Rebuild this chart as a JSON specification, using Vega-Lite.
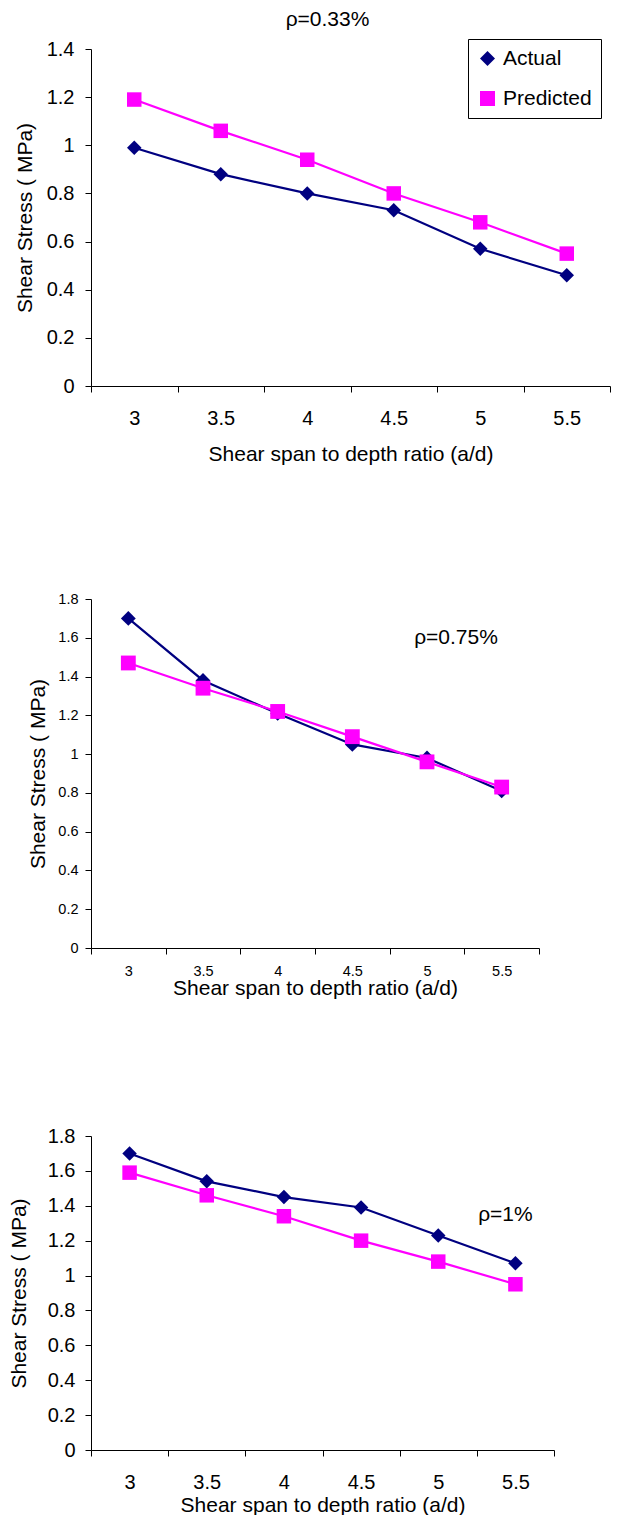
{
  "$schema": "https://vega.github.io/schema/vega-lite/v6.json",
  "background": "white",
  "padding": {"left": 8, "top": 9, "right": 0, "bottom": 0},
  "config": {
    "font": "Liberation Sans",
    "view": {"stroke": null},
    "axis": {"grid": false, "domainColor": "#000000", "tickColor": "#000000", "labelColor": "#000000", "titleColor": "#000000", "titleFontWeight": "normal", "tickSize": 6, "labelFont": "Liberation Sans", "titleFont": "Liberation Sans", "labelOverlap": false},
    "title": {"font": "Liberation Sans", "fontWeight": "normal", "color": "#000000"},
    "text": {"font": "Liberation Sans"}
  },
  "datasets": {
    "p1": [
      {"ratio": "3", "series": "Actual", "stress": 0.99},
      {"ratio": "3.5", "series": "Actual", "stress": 0.88},
      {"ratio": "4", "series": "Actual", "stress": 0.80},
      {"ratio": "4.5", "series": "Actual", "stress": 0.73},
      {"ratio": "5", "series": "Actual", "stress": 0.57},
      {"ratio": "5.5", "series": "Actual", "stress": 0.46},
      {"ratio": "3", "series": "Predicted", "stress": 1.19},
      {"ratio": "3.5", "series": "Predicted", "stress": 1.06},
      {"ratio": "4", "series": "Predicted", "stress": 0.94},
      {"ratio": "4.5", "series": "Predicted", "stress": 0.80},
      {"ratio": "5", "series": "Predicted", "stress": 0.68},
      {"ratio": "5.5", "series": "Predicted", "stress": 0.55}
    ],
    "p2": [
      {"ratio": "3", "series": "Actual", "stress": 1.70},
      {"ratio": "3.5", "series": "Actual", "stress": 1.38},
      {"ratio": "4", "series": "Actual", "stress": 1.21},
      {"ratio": "4.5", "series": "Actual", "stress": 1.05},
      {"ratio": "5", "series": "Actual", "stress": 0.98},
      {"ratio": "5.5", "series": "Actual", "stress": 0.81},
      {"ratio": "3", "series": "Predicted", "stress": 1.47},
      {"ratio": "3.5", "series": "Predicted", "stress": 1.34},
      {"ratio": "4", "series": "Predicted", "stress": 1.22},
      {"ratio": "4.5", "series": "Predicted", "stress": 1.09},
      {"ratio": "5", "series": "Predicted", "stress": 0.96},
      {"ratio": "5.5", "series": "Predicted", "stress": 0.83}
    ],
    "p3": [
      {"ratio": "3", "series": "Actual", "stress": 1.70},
      {"ratio": "3.5", "series": "Actual", "stress": 1.54},
      {"ratio": "4", "series": "Actual", "stress": 1.45},
      {"ratio": "4.5", "series": "Actual", "stress": 1.39},
      {"ratio": "5", "series": "Actual", "stress": 1.23},
      {"ratio": "5.5", "series": "Actual", "stress": 1.07},
      {"ratio": "3", "series": "Predicted", "stress": 1.59},
      {"ratio": "3.5", "series": "Predicted", "stress": 1.46},
      {"ratio": "4", "series": "Predicted", "stress": 1.34},
      {"ratio": "4.5", "series": "Predicted", "stress": 1.20},
      {"ratio": "5", "series": "Predicted", "stress": 1.08},
      {"ratio": "5.5", "series": "Predicted", "stress": 0.95}
    ],
    "n2": [{"ratio": "5", "stress": 1.6, "label": "ρ=0.75%"}],
    "n3": [{"ratio": "5.5", "stress": 1.35, "label": "ρ=1%"}]
  },
  "columns": 1,
  "align": "each",
  "spacing": 127,
  "concat": [
    {
      "width": 519,
      "height": 337,
      "title": {"text": "ρ=0.33%", "fontSize": 21, "dx": -23, "offset": 9, "anchor": "middle"},
      "data": {"name": "p1"},
      "layer": [
        {
          "mark": {"type": "line", "strokeWidth": 2.2},
          "encoding": {
            "x": {"field": "ratio", "type": "ordinal", "sort": ["3", "3.5", "4", "4.5", "5", "5.5"], "bandPosition": 0.5,
              "scale": {"type": "band", "domain": ["3", "3.5", "4", "4.5", "5", "5.5"], "paddingInner": 0, "paddingOuter": 0},
              "axis": {"title": "Shear span to depth ratio (a/d)", "labelAngle": 0, "tickBand": "extent", "labelFontSize": 20, "titleFontSize": 21, "labelPadding": 16, "titlePadding": 15}},
            "y": {"field": "stress", "type": "quantitative", "scale": {"domain": [0, 1.4]},
              "axis": {"title": "Shear Stress ( MPa)", "values": [0, 0.2, 0.4, 0.6, 0.8, 1, 1.2, 1.4], "format": "~g", "labelFontSize": 20, "titleFontSize": 21, "labelPadding": 11, "titlePadding": 11}},
            "color": {"field": "series", "type": "nominal", "scale": {"domain": ["Actual", "Predicted"], "range": ["#000080", "#ff00ff"]},
              "legend": {"title": null, "orient": "none", "legendX": 377, "legendY": -10, "strokeColor": "#000000", "fillColor": "#ffffff", "padding": 9,
                "labelFontSize": 21, "labelFont": "Liberation Sans", "labelColor": "#000000", "labelOffset": 5, "rowPadding": 18, "symbolSize": 225, "symbolStrokeWidth": 0}}
          }
        },
        {
          "mark": {"type": "point", "filled": true, "opacity": 1, "size": 210},
          "encoding": {
            "x": {"field": "ratio", "type": "ordinal", "sort": ["3", "3.5", "4", "4.5", "5", "5.5"], "bandPosition": 0.5},
            "y": {"field": "stress", "type": "quantitative"},
            "color": {"field": "series", "type": "nominal", "scale": {"domain": ["Actual", "Predicted"], "range": ["#000080", "#ff00ff"]},
              "legend": {"title": null, "orient": "none", "legendX": 377, "legendY": -10, "strokeColor": "#000000", "fillColor": "#ffffff", "padding": 9,
                "labelFontSize": 21, "labelFont": "Liberation Sans", "labelColor": "#000000", "labelOffset": 5, "rowPadding": 18, "symbolSize": 225, "symbolStrokeWidth": 0}},
            "shape": {"field": "series", "type": "nominal", "scale": {"domain": ["Actual", "Predicted"], "range": ["diamond", "square"]}, "legend": null}
          }
        }
      ]
    },
    {
      "width": 448,
      "height": 349,
      "layer": [
        {
          "data": {"name": "p2"},
          "mark": {"type": "line", "strokeWidth": 2.2},
          "encoding": {
            "x": {"field": "ratio", "type": "ordinal", "sort": ["3", "3.5", "4", "4.5", "5", "5.5"], "bandPosition": 0.5,
              "scale": {"type": "band", "domain": ["3", "3.5", "4", "4.5", "5", "5.5"], "paddingInner": 0, "paddingOuter": 0},
              "axis": {"title": "Shear span to depth ratio (a/d)", "labelAngle": 0, "tickBand": "extent", "labelFontSize": 14.5, "titleFontSize": 21, "labelPadding": 10, "titlePadding": 0}},
            "y": {"field": "stress", "type": "quantitative", "scale": {"domain": [0, 1.8]},
              "axis": {"title": "Shear Stress ( MPa)", "values": [0, 0.2, 0.4, 0.6, 0.8, 1, 1.2, 1.4, 1.6, 1.8], "format": "~g", "labelFontSize": 14.5, "titleFontSize": 21, "labelPadding": 7, "titlePadding": 9}},
            "color": {"field": "series", "type": "nominal", "scale": {"domain": ["Actual", "Predicted"], "range": ["#000080", "#ff00ff"]}, "legend": null}
          }
        },
        {
          "data": {"name": "p2"},
          "mark": {"type": "point", "filled": true, "opacity": 1, "size": 220},
          "encoding": {
            "x": {"field": "ratio", "type": "ordinal", "sort": ["3", "3.5", "4", "4.5", "5", "5.5"], "bandPosition": 0.5,
              "axis": {"title": "Shear span to depth ratio (a/d)", "labelAngle": 0, "tickBand": "extent", "labelFontSize": 14.5, "titleFontSize": 21, "labelPadding": 10, "titlePadding": 0}},
            "y": {"field": "stress", "type": "quantitative",
              "axis": {"title": "Shear Stress ( MPa)", "values": [0, 0.2, 0.4, 0.6, 0.8, 1, 1.2, 1.4, 1.6, 1.8], "format": "~g", "labelFontSize": 14.5, "titleFontSize": 21, "labelPadding": 7, "titlePadding": 9}},
            "color": {"field": "series", "type": "nominal", "scale": {"domain": ["Actual", "Predicted"], "range": ["#000080", "#ff00ff"]}, "legend": null},
            "shape": {"field": "series", "type": "nominal", "scale": {"domain": ["Actual", "Predicted"], "range": ["diamond", "square"]}, "legend": null}
          }
        },
        {
          "data": {"name": "n2"},
          "mark": {"type": "text", "fontSize": 21, "dx": 29, "align": "center", "baseline": "middle", "color": "#000000"},
          "encoding": {
            "x": {"field": "ratio", "type": "ordinal", "sort": ["3", "3.5", "4", "4.5", "5", "5.5"], "bandPosition": 0.5,
              "axis": {"title": "Shear span to depth ratio (a/d)", "labelAngle": 0, "tickBand": "extent", "labelFontSize": 14.5, "titleFontSize": 21, "labelPadding": 10, "titlePadding": 0}},
            "y": {"field": "stress", "type": "quantitative",
              "axis": {"title": "Shear Stress ( MPa)", "values": [0, 0.2, 0.4, 0.6, 0.8, 1, 1.2, 1.4, 1.6, 1.8], "format": "~g", "labelFontSize": 14.5, "titleFontSize": 21, "labelPadding": 7, "titlePadding": 9}},
            "text": {"field": "label"}
          }
        }
      ]
    },
    {
      "width": 463,
      "height": 314,
      "layer": [
        {
          "data": {"name": "p3"},
          "mark": {"type": "line", "strokeWidth": 2.2},
          "encoding": {
            "x": {"field": "ratio", "type": "ordinal", "sort": ["3", "3.5", "4", "4.5", "5", "5.5"], "bandPosition": 0.5,
              "scale": {"type": "band", "domain": ["3", "3.5", "4", "4.5", "5", "5.5"], "paddingInner": 0, "paddingOuter": 0},
              "axis": {"title": "Shear span to depth ratio (a/d)", "labelAngle": 0, "tickBand": "extent", "labelFontSize": 20, "titleFontSize": 21, "labelPadding": 16, "titlePadding": 2}},
            "y": {"field": "stress", "type": "quantitative", "scale": {"domain": [0, 1.8]},
              "axis": {"title": "Shear Stress ( MPa)", "values": [0, 0.2, 0.4, 0.6, 0.8, 1, 1.2, 1.4, 1.6, 1.8], "format": "~g", "labelFontSize": 20, "titleFontSize": 21, "labelPadding": 10, "titlePadding": 18}},
            "color": {"field": "series", "type": "nominal", "scale": {"domain": ["Actual", "Predicted"], "range": ["#000080", "#ff00ff"]}, "legend": null}
          }
        },
        {
          "data": {"name": "p3"},
          "mark": {"type": "point", "filled": true, "opacity": 1, "size": 210},
          "encoding": {
            "x": {"field": "ratio", "type": "ordinal", "sort": ["3", "3.5", "4", "4.5", "5", "5.5"], "bandPosition": 0.5,
              "axis": {"title": "Shear span to depth ratio (a/d)", "labelAngle": 0, "tickBand": "extent", "labelFontSize": 20, "titleFontSize": 21, "labelPadding": 16, "titlePadding": 2}},
            "y": {"field": "stress", "type": "quantitative",
              "axis": {"title": "Shear Stress ( MPa)", "values": [0, 0.2, 0.4, 0.6, 0.8, 1, 1.2, 1.4, 1.6, 1.8], "format": "~g", "labelFontSize": 20, "titleFontSize": 21, "labelPadding": 10, "titlePadding": 18}},
            "color": {"field": "series", "type": "nominal", "scale": {"domain": ["Actual", "Predicted"], "range": ["#000080", "#ff00ff"]}, "legend": null},
            "shape": {"field": "series", "type": "nominal", "scale": {"domain": ["Actual", "Predicted"], "range": ["diamond", "square"]}, "legend": null}
          }
        },
        {
          "data": {"name": "n3"},
          "mark": {"type": "text", "fontSize": 21, "dx": -10, "align": "center", "baseline": "middle", "color": "#000000"},
          "encoding": {
            "x": {"field": "ratio", "type": "ordinal", "sort": ["3", "3.5", "4", "4.5", "5", "5.5"], "bandPosition": 0.5,
              "axis": {"title": "Shear span to depth ratio (a/d)", "labelAngle": 0, "tickBand": "extent", "labelFontSize": 20, "titleFontSize": 21, "labelPadding": 16, "titlePadding": 2}},
            "y": {"field": "stress", "type": "quantitative",
              "axis": {"title": "Shear Stress ( MPa)", "values": [0, 0.2, 0.4, 0.6, 0.8, 1, 1.2, 1.4, 1.6, 1.8], "format": "~g", "labelFontSize": 20, "titleFontSize": 21, "labelPadding": 10, "titlePadding": 18}},
            "text": {"field": "label"}
          }
        }
      ]
    }
  ]
}
